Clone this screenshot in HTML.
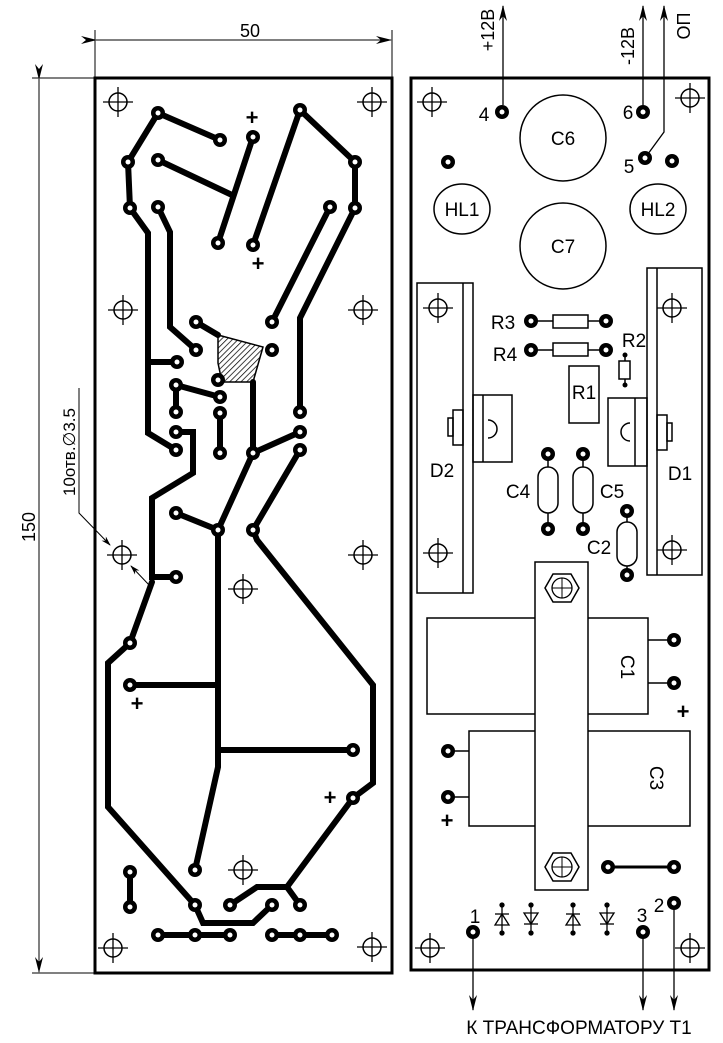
<!DOCTYPE html>
<html><head><meta charset="utf-8"><style>
html,body{margin:0;padding:0;background:#fff;}
svg{display:block;}
text{font-family:"Liberation Sans",sans-serif;fill:#000;}
</style></head><body>
<svg width="723" height="1043" viewBox="0 0 723 1043" xmlns="http://www.w3.org/2000/svg">
<defs>
<pattern id="hatch" width="4" height="4" patternUnits="userSpaceOnUse" patternTransform="rotate(45)">
<line x1="0" y1="0" x2="0" y2="4" stroke="#000" stroke-width="1.5"/></pattern>
<g id="mh"><circle r="9" fill="none" stroke="#000" stroke-width="1.5"/><line x1="-15" y1="0" x2="15" y2="0" stroke="#000" stroke-width="1.3"/><line x1="0" y1="-15" x2="0" y2="15" stroke="#000" stroke-width="1.3"/></g>
<g id="pd"><circle r="7" fill="#000"/><circle r="2.5" fill="#fff"/></g>
<marker id="ar" markerWidth="10" markerHeight="10" refX="9" refY="3" orient="auto" markerUnits="userSpaceOnUse"><path d="M0,0 L10,3 L0,6 L3,3z" fill="#000"/></marker>
<marker id="ar2" markerWidth="16" markerHeight="10" refX="15" refY="4" orient="auto" markerUnits="userSpaceOnUse"><path d="M0,0 L16,4 L0,8 L5,4z" fill="#000"/></marker>
<g id="nut"><polygon points="-17,0 -9,-14 9,-14 17,0 9,14 -9,14" fill="none" stroke="#000" stroke-width="1.5"/><circle r="10" fill="none" stroke="#000" stroke-width="1.3"/><line x1="-10" y1="0" x2="10" y2="0" stroke="#000"/><line x1="0" y1="-10" x2="0" y2="10" stroke="#000"/></g>
</defs>

<!-- Dimensions -->
<g stroke="#000" stroke-width="1">
<line x1="95" y1="30" x2="95" y2="78"/>
<line x1="392" y1="30" x2="392" y2="78"/>
<line x1="96" y1="40" x2="391" y2="40" marker-start="url(#ar2)" marker-end="url(#ar2)"/>
<line x1="32" y1="78" x2="95" y2="78"/>
<line x1="32" y1="973" x2="95" y2="973"/>
<line x1="39" y1="79" x2="39" y2="972" marker-start="url(#ar2)" marker-end="url(#ar2)"/>
<polyline points="79,388 79,513 110,545" fill="none" marker-end="url(#ar)"/>
<line x1="150" y1="586" x2="131" y2="566" marker-end="url(#ar)"/>
</g>
<text x="250" y="37" font-size="18" text-anchor="middle">50</text>
<text transform="translate(35,527) rotate(-90)" font-size="18" text-anchor="middle">150</text>
<text transform="translate(75,452) rotate(-90)" font-size="17" text-anchor="middle">10отв.∅3.5</text>

<!-- Left board -->
<rect x="95" y="78" width="297" height="895" fill="none" stroke="#000" stroke-width="3"/>
<g fill="none" stroke="#000" stroke-width="6" stroke-linejoin="miter" stroke-linecap="round">
<polyline points="220,140 158,113 128,162 130,208 148,233 148,433 176,450"/>
<line x1="148" y1="362" x2="177" y2="362"/>
<line x1="158" y1="160" x2="232" y2="195"/>
<line x1="253" y1="137" x2="218" y2="243"/>
<polyline points="253,245 300,110 355,162 355,208 300,318 300,412"/>
<line x1="330" y1="207" x2="272" y2="322"/>
<polyline points="158,207 170,232 170,327 196,350"/>
<line x1="196" y1="322" x2="218" y2="335"/>
<line x1="176" y1="385" x2="220" y2="397"/>
<line x1="176" y1="385" x2="176" y2="412"/>
<line x1="220" y1="413" x2="220" y2="453"/>
<polyline points="253,382 253,453 300,432"/>
<polyline points="176,432 193,432 193,473 152,498 152,577 176,577"/>
<polyline points="152,582 130,643 108,663 108,807 195,905 203,923 253,923 272,905"/>
<polyline points="253,453 218,530 218,767 195,870"/>
<line x1="130" y1="685" x2="218" y2="685"/>
<line x1="218" y1="750" x2="353" y2="750"/>
<polyline points="300,450 253,530 257,540 373,685 373,783 353,798 287,887 257,887 230,905"/>
<line x1="287" y1="887" x2="300" y2="905"/>
<line x1="176" y1="513" x2="218" y2="530"/>
<line x1="130" y1="872" x2="130" y2="907"/>
<line x1="158" y1="935" x2="230" y2="935"/>
<line x1="272" y1="935" x2="332" y2="935"/>
</g>
<polygon points="218,335 263,347 253,382 222,382 218,363" fill="url(#hatch)" stroke="#000" stroke-width="1.5"/>
<g>
<use href="#pd" x="158" y="113"/><use href="#pd" x="220" y="140"/><use href="#pd" x="253" y="137"/><use href="#pd" x="300" y="110"/>
<use href="#pd" x="128" y="162"/><use href="#pd" x="158" y="160"/><use href="#pd" x="355" y="162"/>
<use href="#pd" x="130" y="208"/><use href="#pd" x="158" y="207"/><use href="#pd" x="330" y="207"/><use href="#pd" x="355" y="208"/>
<use href="#pd" x="218" y="243"/><use href="#pd" x="253" y="245"/>
<use href="#pd" x="196" y="322"/><use href="#pd" x="272" y="322"/><use href="#pd" x="196" y="350"/><use href="#pd" x="272" y="350"/>
<use href="#pd" x="177" y="362"/><use href="#pd" x="218" y="380"/><use href="#pd" x="176" y="385"/><use href="#pd" x="220" y="397"/>
<use href="#pd" x="176" y="412"/><use href="#pd" x="220" y="413"/><use href="#pd" x="300" y="412"/>
<use href="#pd" x="176" y="432"/><use href="#pd" x="300" y="432"/><use href="#pd" x="176" y="450"/><use href="#pd" x="220" y="453"/><use href="#pd" x="253" y="453"/><use href="#pd" x="300" y="450"/>
<use href="#pd" x="176" y="513"/><use href="#pd" x="218" y="530"/><use href="#pd" x="253" y="530"/>
<use href="#pd" x="176" y="577"/><use href="#pd" x="130" y="643"/><use href="#pd" x="130" y="685"/><use href="#pd" x="353" y="750"/><use href="#pd" x="353" y="798"/>
<use href="#pd" x="195" y="870"/><use href="#pd" x="130" y="872"/><use href="#pd" x="130" y="907"/>
<use href="#pd" x="195" y="905"/><use href="#pd" x="230" y="905"/><use href="#pd" x="272" y="905"/><use href="#pd" x="300" y="905"/>
<use href="#pd" x="158" y="935"/><use href="#pd" x="195" y="935"/><use href="#pd" x="230" y="935"/><use href="#pd" x="272" y="935"/><use href="#pd" x="300" y="935"/><use href="#pd" x="332" y="935"/>
</g>
<g>
<use href="#mh" x="118" y="102"/><use href="#mh" x="372" y="102"/><use href="#mh" x="123" y="310"/><use href="#mh" x="363" y="310"/>
<use href="#mh" x="122" y="555"/><use href="#mh" x="363" y="555"/><use href="#mh" x="243" y="589"/><use href="#mh" x="243" y="870"/>
<use href="#mh" x="113" y="948"/><use href="#mh" x="372" y="947"/>
</g>
<g font-size="22" font-weight="bold" text-anchor="middle">
<text x="252" y="125">+</text><text x="258" y="271">+</text><text x="137" y="711">+</text><text x="330" y="805">+</text>
</g>

<!-- Right board -->
<rect x="411" y="78" width="298" height="892" fill="none" stroke="#000" stroke-width="3"/>
<g stroke="#000" stroke-width="1.3" fill="none">
<line x1="503" y1="105" x2="503" y2="6" marker-end="url(#ar2)"/>
<line x1="643" y1="105" x2="643" y2="6" marker-end="url(#ar2)"/>
<polyline points="645,158 664,132 664,6" marker-end="url(#ar2)"/>
<line x1="473" y1="932" x2="473" y2="1010" marker-end="url(#ar2)"/>
<line x1="643" y1="932" x2="643" y2="1010" marker-end="url(#ar2)"/>
<line x1="674" y1="903" x2="674" y2="1010" marker-end="url(#ar2)"/>
</g>
<text transform="translate(494,30) rotate(-90)" font-size="18" text-anchor="middle">+12В</text>
<text transform="translate(634,46) rotate(-90)" font-size="18" text-anchor="middle">-12В</text>
<text transform="translate(690,26) rotate(-90)" font-size="18" text-anchor="middle">ОП</text>

<g fill="none" stroke="#000" stroke-width="1.5">
<circle cx="563" cy="138" r="43"/>
<circle cx="563" cy="246" r="43"/>
<ellipse cx="462" cy="209" rx="28" ry="25"/>
<ellipse cx="658" cy="209" rx="28" ry="25"/>
<rect x="417" y="283" width="56" height="310"/>
<line x1="463" y1="283" x2="463" y2="593"/>
<rect x="473" y="395" width="39" height="67"/>
<line x1="483" y1="395" x2="483" y2="462"/>
<path d="M488,420 A9,9 0 0 1 488,438"/>
<rect x="453" y="410" width="10" height="35"/>
<rect x="448" y="418" width="5" height="18"/>
<rect x="647" y="268" width="55" height="307"/>
<line x1="657" y1="268" x2="657" y2="575"/>
<rect x="608" y="398" width="39" height="68"/>
<line x1="635" y1="398" x2="635" y2="466"/>
<path d="M630,423 A9,9 0 0 0 630,441"/>
<rect x="657" y="415" width="10" height="35"/>
<rect x="667" y="423" width="5" height="18"/>
<line x1="531" y1="321" x2="606" y2="321"/>
<rect x="553" y="315" width="35" height="13" fill="#fff"/>
<line x1="531" y1="350" x2="606" y2="350"/>
<rect x="553" y="343" width="35" height="13" fill="#fff"/>
<line x1="625" y1="355" x2="625" y2="385"/>
<rect x="619" y="361" width="11" height="18" fill="#fff"/>
<rect x="569" y="366" width="30" height="57"/>
<line x1="548" y1="454" x2="548" y2="529"/>
<rect x="538" y="467" width="20" height="46" rx="10" fill="#fff"/>
<line x1="583" y1="454" x2="583" y2="529"/>
<rect x="573" y="467" width="20" height="46" rx="10" fill="#fff"/>
<line x1="627" y1="511" x2="627" y2="575"/>
<rect x="617" y="522" width="20" height="44" rx="10" fill="#fff"/>
<rect x="427" y="618" width="221" height="96"/>
<line x1="648" y1="640" x2="674" y2="640"/><line x1="648" y1="683" x2="674" y2="683"/>
<rect x="469" y="731" width="221" height="95"/>
<line x1="448" y1="751" x2="469" y2="751"/><line x1="448" y1="797" x2="469" y2="797"/>
<rect x="535" y="562" width="53" height="328" fill="#fff"/>
</g>
<use href="#nut" x="562" y="588"/><use href="#nut" x="562" y="867"/>
<line x1="608" y1="867" x2="674" y2="867" stroke="#000" stroke-width="3"/>
<g fill="#000"><circle cx="625" cy="355" r="2.5"/><circle cx="625" cy="385" r="2.5"/></g>
<g>
<use href="#pd" x="502" y="112"/><use href="#pd" x="643" y="112"/><use href="#pd" x="645" y="158"/><use href="#pd" x="448" y="162"/><use href="#pd" x="672" y="161"/>
<use href="#pd" x="531" y="321"/><use href="#pd" x="606" y="321"/><use href="#pd" x="531" y="350"/><use href="#pd" x="606" y="350"/>
<use href="#pd" x="548" y="454"/><use href="#pd" x="548" y="529"/><use href="#pd" x="583" y="454"/><use href="#pd" x="583" y="529"/>
<use href="#pd" x="627" y="511"/><use href="#pd" x="627" y="575"/>
<use href="#pd" x="674" y="640"/><use href="#pd" x="674" y="683"/><use href="#pd" x="448" y="751"/><use href="#pd" x="448" y="797"/>
<use href="#pd" x="608" y="867"/><use href="#pd" x="674" y="867"/><use href="#pd" x="674" y="903"/><use href="#pd" x="643" y="932"/><use href="#pd" x="473" y="932"/>
</g>
<g>
<use href="#mh" x="432" y="102"/><use href="#mh" x="690" y="98"/><use href="#mh" x="438" y="308"/><use href="#mh" x="438" y="553"/>
<use href="#mh" x="672" y="308"/><use href="#mh" x="672" y="550"/><use href="#mh" x="430" y="948"/><use href="#mh" x="690" y="948"/>
</g>
<g stroke="#000" stroke-width="1.3" fill="none">
<g transform="translate(502,919)"><line x1="0" y1="-14" x2="0" y2="14"/><polygon points="-7,6 7,6 0,-5"/><line x1="-7" y1="-5" x2="7" y2="-5"/><circle cy="-14" r="2" fill="#000"/><circle cy="14" r="2" fill="#000"/></g>
<g transform="translate(531,919)"><line x1="0" y1="-14" x2="0" y2="14"/><polygon points="-7,-6 7,-6 0,5"/><line x1="-7" y1="5" x2="7" y2="5"/><circle cy="-14" r="2" fill="#000"/><circle cy="14" r="2" fill="#000"/></g>
<g transform="translate(573,919)"><line x1="0" y1="-14" x2="0" y2="14"/><polygon points="-7,6 7,6 0,-5"/><line x1="-7" y1="-5" x2="7" y2="-5"/><circle cy="-14" r="2" fill="#000"/><circle cy="14" r="2" fill="#000"/></g>
<g transform="translate(607,919)"><line x1="0" y1="-14" x2="0" y2="14"/><polygon points="-7,-6 7,-6 0,5"/><line x1="-7" y1="5" x2="7" y2="5"/><circle cy="-14" r="2" fill="#000"/><circle cy="14" r="2" fill="#000"/></g>
</g>
<g font-size="19">
<text x="563" y="145" text-anchor="middle">C6</text>
<text x="563" y="253" text-anchor="middle">C7</text>
<text x="462" y="216" text-anchor="middle">HL1</text>
<text x="658" y="216" text-anchor="middle">HL2</text>
<text x="503" y="329" text-anchor="middle">R3</text>
<text x="505" y="361" text-anchor="middle">R4</text>
<text x="634" y="347" text-anchor="middle">R2</text>
<text x="584" y="399" text-anchor="middle">R1</text>
<text x="442" y="477" text-anchor="middle">D2</text>
<text x="680" y="480" text-anchor="middle">D1</text>
<text x="518" y="498" text-anchor="middle">C4</text>
<text x="612" y="498" text-anchor="middle">C5</text>
<text x="599" y="554" text-anchor="middle">C2</text>
<text transform="translate(621,667) rotate(90)" text-anchor="middle">C1</text>
<text transform="translate(650,778) rotate(90)" text-anchor="middle">C3</text>
<text x="484" y="121" text-anchor="middle">4</text>
<text x="628" y="119" text-anchor="middle">6</text>
<text x="629" y="173" text-anchor="middle">5</text>
<text x="475" y="923" text-anchor="middle">1</text>
<text x="642" y="922" text-anchor="middle">3</text>
<text x="659" y="912" text-anchor="middle">2</text>
</g>
<g font-size="22" font-weight="bold" text-anchor="middle">
<text x="683" y="719">+</text><text x="447" y="828">+</text>
</g>
<text x="579" y="1034" font-size="19" text-anchor="middle">К ТРАНСФОРМАТОРУ Т1</text>
</svg>
</body></html>
